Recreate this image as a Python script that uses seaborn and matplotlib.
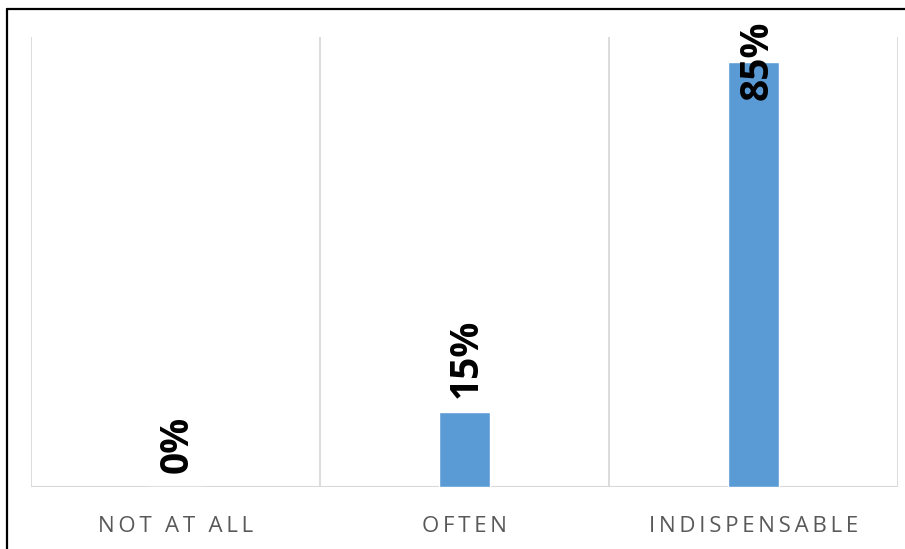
import matplotlib
matplotlib.use("Agg")
import matplotlib.pyplot as plt
from matplotlib.lines import Line2D
import seaborn as sns
import pandas as pd

categories = ["NOT AT ALL", "OFTEN", "INDISPENSABLE"]
values = [0, 15, 85]
value_labels = ["0%", "15%", "85%"]

sns.set_theme(style="white")
plt.rcParams["font.family"] = ["Open Sans", "DejaVu Sans"]

W, H, DPI = 905, 549, 100
fig = plt.figure(figsize=(W / DPI, H / DPI), dpi=DPI)
ax = fig.add_axes([31 / W, (H - 487) / H, (898 - 31) / W, (487 - 37) / H])

df = pd.DataFrame({"category": categories, "value": values})
sns.barplot(data=df, x="category", y="value", color="#5B9BD5", width=0.177,
            saturation=1, ax=ax)

ax.set_ylim(0, 90)
ax.set_xlim(-0.5, 2.5)
ax.set_yticks([])
ax.set_xlabel("")
ax.set_ylabel("")
for s in ax.spines.values():
    s.set_visible(False)

# vertical gridlines between categories and the category axis line
for xb in [-0.5, 0.5, 1.5, 2.5]:
    ax.axvline(xb, color="#d9d9d9", lw=1.3, zorder=0)
ax.axhline(0, color="#d9d9d9", lw=1.5, zorder=0)

# letter-spaced category labels
spaced = ["\u2009".join(c) for c in categories]
ax.set_xticks(range(len(categories)))
ax.set_xticklabels(spaced, fontsize=16, color="#595959")
ax.tick_params(axis="x", length=0, pad=21)

# rotated data labels; labels that would run past the top go inside the bar end
for i, (v, lab) in enumerate(zip(values, value_labels)):
    if v > 75:
        ax.annotate(lab, (i, v), xytext=(2.5, 30), textcoords="offset points",
                    rotation=90, ha="center", va="top", fontsize=28,
                    fontweight="bold", color="black")
    else:
        ax.annotate(lab, (i, v), xytext=(1, 10), textcoords="offset points",
                    rotation=90, ha="center", va="bottom", fontsize=28,
                    fontweight="bold", color="black")

# frame along the left and top edges
fig.add_artist(Line2D([7 / W, 7 / W], [0, 1 - 9 / H], color="black", lw=1.6,
                      transform=fig.transFigure))
fig.add_artist(Line2D([7 / W, 1], [1 - 9 / H, 1 - 9 / H], color="black", lw=1.6,
                      transform=fig.transFigure))

fig.savefig("out.png", dpi=DPI, facecolor="white")
